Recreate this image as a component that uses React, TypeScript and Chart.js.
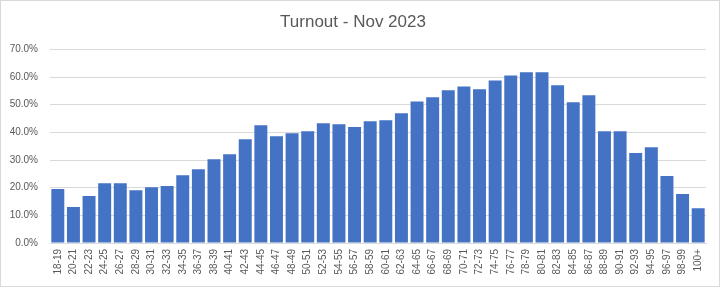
import React, { useEffect, useRef } from "react";
import { Chart, registerables } from "chart.js";

Chart.register(...registerables);

const title = "Turnout - Nov 2023";

const categories: string[] = [
  "18-19", "20-21", "22-23", "24-25", "26-27", "28-29", "30-31", "32-33", "34-35", "36-37",
  "38-39", "40-41", "42-43", "44-45", "46-47", "48-49", "50-51", "52-53", "54-55", "56-57",
  "58-59", "60-61", "62-63", "64-65", "66-67", "68-69", "70-71", "72-73", "74-75", "76-77",
  "78-79", "80-81", "82-83", "84-85", "86-87", "88-89", "90-91", "92-93", "94-95", "96-97",
  "98-99", "100+",
];

const turnout: number[] = [
  19.5, 13.0, 17.0, 21.6, 21.6, 19.1, 20.2, 20.6, 24.5, 26.7,
  30.3, 32.1, 37.5, 42.6, 38.6, 39.7, 40.4, 43.3, 42.9, 41.9,
  44.0, 44.4, 46.9, 51.2, 52.7, 55.2, 56.6, 55.6, 58.8, 60.6,
  61.7, 61.7, 57.0, 50.9, 53.4, 40.4, 40.4, 32.5, 34.6, 24.2,
  17.7, 12.6,
];

const yMax = 70;
const yStep = 10;

const borderPlugin = {
  id: "outerBorder",
  afterDraw(chart: any) {
    const ctx = chart.ctx;
    ctx.save();
    ctx.strokeStyle = "#d9d9d9";
    ctx.lineWidth = 1;
    ctx.strokeRect(0.5, 0.5, chart.width - 2, chart.height - 2);
    ctx.restore();
  },
};

export default function App() {
  const ref = useRef<HTMLCanvasElement | null>(null);

  useEffect(() => {
    if (!ref.current) return;
    const chart = new Chart(ref.current, {
      type: "bar",
      data: {
        labels: categories,
        datasets: [
          {
            label: "Turnout",
            data: turnout,
            backgroundColor: "#4472c4",
            borderWidth: 0,
            barPercentage: 0.83,
            categoryPercentage: 1,
          },
        ],
      },
      options: {
        animation: false,
        responsive: false,
        maintainAspectRatio: false,
        layout: { padding: { left: 0, right: 15, top: 0, bottom: 0 } },
        plugins: {
          legend: { display: false },
          tooltip: { enabled: false },
          title: {
            display: true,
            text: title,
            color: "#595959",
            font: { family: "'Liberation Sans', Arial, sans-serif", size: 17, weight: "normal" },
            padding: { top: 12, bottom: 17 },
          },
        },
        scales: {
          x: {
            grid: { display: false, drawTicks: false },
            border: { display: true, color: "#d9d9d9", width: 1 },
            ticks: {
              color: "#595959",
              font: { family: "'Liberation Sans', Arial, sans-serif", size: 10 },
              minRotation: 90,
              maxRotation: 90,
              autoSkip: false,
              padding: 6,
            },
            afterFit(scale: any) {
              scale.height = 45;
            },
          },
          y: {
            min: 0,
            max: yMax,
            grid: { color: "#d9d9d9", drawTicks: false },
            border: { display: false },
            ticks: {
              stepSize: yStep,
              color: "#595959",
              font: { family: "'Liberation Sans', Arial, sans-serif", size: 10 },
              padding: 12,
              callback: (v: any) => `${Number(v).toFixed(1)}%`,
            },
            afterFit(scale: any) {
              scale.width = 50;
            },
          },
        },
      },
      plugins: [borderPlugin],
    });
    return () => chart.destroy();
  }, []);

  return (
    <div style={{ position: "fixed", left: 0, top: 0, width: 721, height: 288, background: "#fff" }}>
      <canvas ref={ref} width={721} height={288} style={{ display: "block" }} />
    </div>
  );
}
